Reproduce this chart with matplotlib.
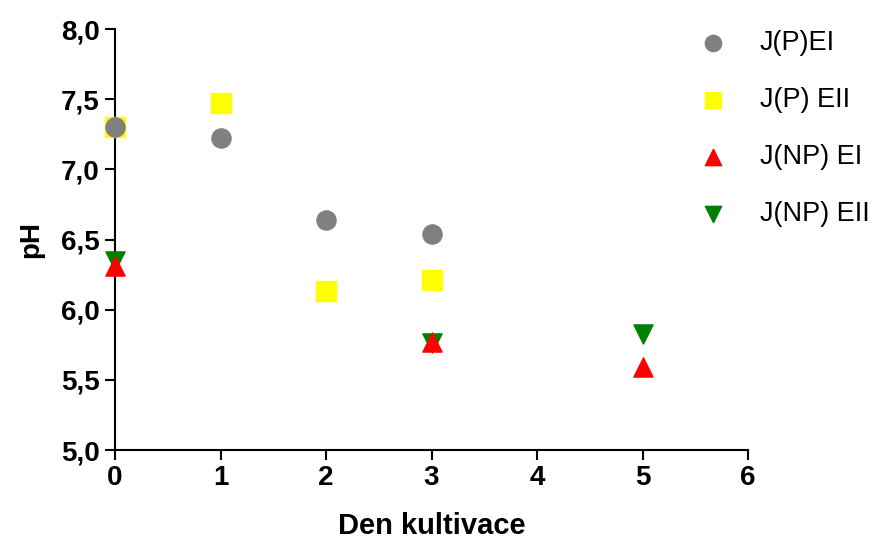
import matplotlib.pyplot as plt
import numpy as np

plt.rcParams['font.family'] = ['Liberation Sans', 'DejaVu Sans']

# data
den_pe1 = [0, 1, 2, 3]
ph_pe1 = [7.30, 7.22, 6.64, 6.54]

den_pe2 = [0, 1, 2, 3]
ph_pe2 = [7.30, 7.47, 6.13, 6.21]

den_npe1 = [0, 3, 5]
ph_npe1 = [6.31, 5.77, 5.59]

den_npe2 = [0, 3, 5]
ph_npe2 = [6.35, 5.76, 5.83]

fig = plt.figure(figsize=(8.74, 5.40), dpi=100)
ax = fig.add_axes([115/874, 1-450/540, (748-115)/874, (450-29)/540])

ax.scatter(den_pe2, ph_pe2, marker='s', s=190, color='#ffff00', label='J(P) EII', clip_on=False, zorder=3)
ax.scatter(den_pe1, ph_pe1, marker='o', s=190, color='#808080', label='J(P)EI', clip_on=False, zorder=4)
ax.scatter(den_npe2, ph_npe2, marker='v', s=190, color='#008000', label='J(NP) EII', clip_on=False, zorder=3)
ax.scatter(den_npe1, ph_npe1, marker='^', s=190, color='#ff0000', label='J(NP) EI', clip_on=False, zorder=4)

ax.set_xlim(0, 6)
ax.set_ylim(5.0, 8.0)
ax.set_xticks(np.arange(0, 7, 1))
ax.set_yticks(np.arange(5.0, 8.01, 0.5))
ax.set_yticklabels([('%.1f' % v).replace('.', ',') for v in np.arange(5.0, 8.01, 0.5)])

for s in ['top', 'right']:
    ax.spines[s].set_visible(False)
for s in ['left', 'bottom']:
    ax.spines[s].set_linewidth(1.5)

ax.tick_params(axis='both', direction='out', length=7, width=1.5, labelsize=20, pad=4)
for lab in ax.get_xticklabels() + ax.get_yticklabels():
    lab.set_fontweight('bold')

ax.set_xlabel('Den kultivace', fontsize=21, fontweight='bold', labelpad=15)
ax.set_ylabel('pH', fontsize=20, fontweight='bold', labelpad=12)

h, l = ax.get_legend_handles_labels()
order = [1, 0, 3, 2]
ax.legend([h[i] for i in order], [l[i] for i in order], loc='upper left',
          bbox_to_anchor=(675/874, 1-19/540), bbox_transform=fig.transFigure,
          frameon=False, fontsize=19.5, labelspacing=1.15, handletextpad=0.72,
          markerscale=0.85, borderaxespad=0)

fig.savefig('out.png', dpi=100)
